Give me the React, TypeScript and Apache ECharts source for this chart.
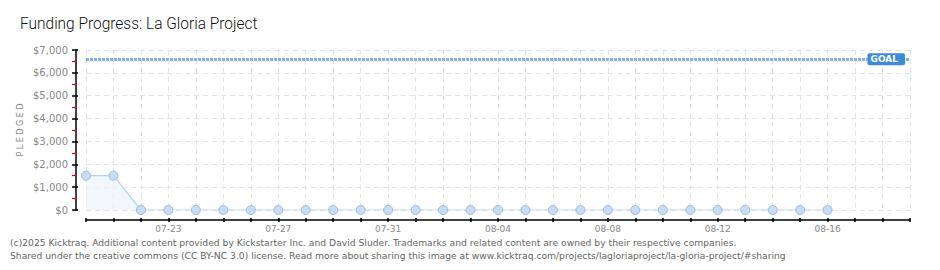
import React, { useEffect, useRef } from "react";
import * as echarts from "echarts";

const categories = [
  "07-20", "07-21", "07-22", "07-23", "07-24", "07-25", "07-26", "07-27",
  "07-28", "07-29", "07-30", "07-31", "08-01", "08-02", "08-03", "08-04",
  "08-05", "08-06", "08-07", "08-08", "08-09", "08-10", "08-11", "08-12",
  "08-13", "08-14", "08-15", "08-16", "08-17", "08-18", "08-19",
];
const pledged = [
  1500, 1500, 0, 0, 0, 0, 0, 0, 0, 0, 0, 0, 0, 0, 0, 0, 0, 0, 0, 0, 0, 0, 0, 0, 0, 0, 0, 0,
];
const goal = 6600;
const yMax = 7000;
const yInterval = 1000;
const title = "Funding Progress: La Gloria Project";
const footer1 =
  "(c)2025 Kicktraq. Additional content provided by Kickstarter Inc. and David Sluder. Trademarks and related content are owned by their respective companies.";
const footer2 =
  "Shared under the creative commons (CC BY-NC 3.0) license. Read more about sharing this image at www.kicktraq.com/projects/lagloriaproject/la-gloria-project/#sharing";

export default function App() {
  const ref = useRef<HTMLDivElement>(null);
  useEffect(() => {
    if (!ref.current) return;
    const chart = echarts.init(ref.current, undefined, { renderer: "svg" });
    const labelFont = "DejaVu Sans";
    chart.setOption({
      animation: false,
      backgroundColor: "#fff",
      graphic: [
        {
          type: "text",
          x: 20,
          y: 15,
          scaleX: 0.91,
          style: { text: title, fontFamily: "Roboto", fontSize: 17, fontWeight: 300, fill: "#111" },
        },
        {
          type: "text",
          x: 10,
          y: 238,
          style: { text: footer1, fontFamily: labelFont, fontSize: 9.2, fill: "#666" },
        },
        {
          type: "text",
          x: 10,
          y: 251,
          style: { text: footer2, fontFamily: labelFont, fontSize: 9.2, fill: "#666" },
        },
        {
          type: "text",
          x: 20,
          y: 130,
          rotation: Math.PI / 2,
          style: {
            text: "P L E D G E D",
            fontFamily: labelFont,
            fontSize: 8,
            fill: "#888",
            align: "center",
            verticalAlign: "middle",
          },
        },
      ],
      grid: { left: 86, right: 30, top: 50, bottom: 60 },
      xAxis: [
        {
          type: "category",
          data: categories,
          boundaryGap: false,
          offset: 10,
          axisLine: { onZero: false, lineStyle: { color: "#000", width: 1.5 } },
          axisTick: { show: true, length: 2, interval: 0, lineStyle: { color: "#000", width: 1.5 } },
          axisLabel: {
            interval: (i: number) => (i - 3) % 4 === 0,
            color: "#888",
            fontFamily: labelFont,
            fontSize: 9,
            margin: 4,
          },
          splitLine: { show: true, interval: 0, lineStyle: { color: "#e4e4e4", type: [5, 4] } },
        },
        {
          type: "category",
          data: categories,
          boundaryGap: false,
          position: "bottom",
          offset: 10,
          axisLine: { show: false, onZero: false },
          axisTick: { show: true, inside: true, length: 2, interval: 0, lineStyle: { color: "#000", width: 1.5 } },
          axisLabel: { show: false },
          splitLine: { show: false },
        },
      ],
      yAxis: [
        {
          type: "value",
          min: 0,
          max: yMax,
          interval: yInterval,
          offset: 10,
          axisLine: { show: true, onZero: false, lineStyle: { color: "#000", width: 1.5 } },
          axisTick: { show: true, length: 4, lineStyle: { color: "#000", width: 1.5 } },
          minorTick: { show: true, splitNumber: 2, length: 4, lineStyle: { color: "#e00", width: 1.2 } },
          axisLabel: {
            color: "#888",
            fontFamily: labelFont,
            fontSize: 10,
            margin: 8,
            formatter: (v: number) => "$" + v.toLocaleString("en-US"),
          },
          splitLine: { show: true, lineStyle: { color: "#e4e4e4", type: [5, 4] } },
        },
        {
          type: "value",
          min: 0,
          max: yMax,
          interval: yInterval,
          position: "left",
          offset: 10,
          axisLine: { show: false, onZero: false },
          axisTick: { show: true, inside: true, length: 2, lineStyle: { color: "#000", width: 1.5 } },
          axisLabel: { show: false },
          splitLine: { show: false },
        },
      ],
      series: [
        {
          type: "line",
          data: pledged,
          symbol: "circle",
          symbolSize: 9,
          lineStyle: { color: "#b5d3f3", width: 1.2 },
          itemStyle: { color: "#c6ddf6", borderColor: "#9fbbd9", borderWidth: 1 },
          areaStyle: { color: "#ebf3fc" },
          markLine: {
            silent: true,
            symbol: "none",
            data: [{ yAxis: goal }],
            lineStyle: { color: "#7fb2e6", type: [3, 1], width: 3 },
            label: {
              show: true,
              position: "insideEnd",
              formatter: "GOAL",
              backgroundColor: "#3d8ad9",
              color: "#fff",
              fontFamily: labelFont,
              fontSize: 9,
              fontWeight: "bold",
              borderRadius: 2,
              padding: [2, 7, 1, 3],
              verticalAlign: "middle",
              distance: [5, 0],
            },
          },
        },
      ],
    });
    return () => chart.dispose();
  }, []);
  return (
    <div
      style={{
        position: "absolute",
        left: 0,
        top: 0,
        width: 940,
        height: 270,
        boxSizing: "border-box",
        border: "1px solid #888",
        background: "#fff",
      }}
    >
      <div ref={ref} style={{ position: "absolute", left: -1, top: -1, width: 940, height: 270 }} />
    </div>
  );
}
